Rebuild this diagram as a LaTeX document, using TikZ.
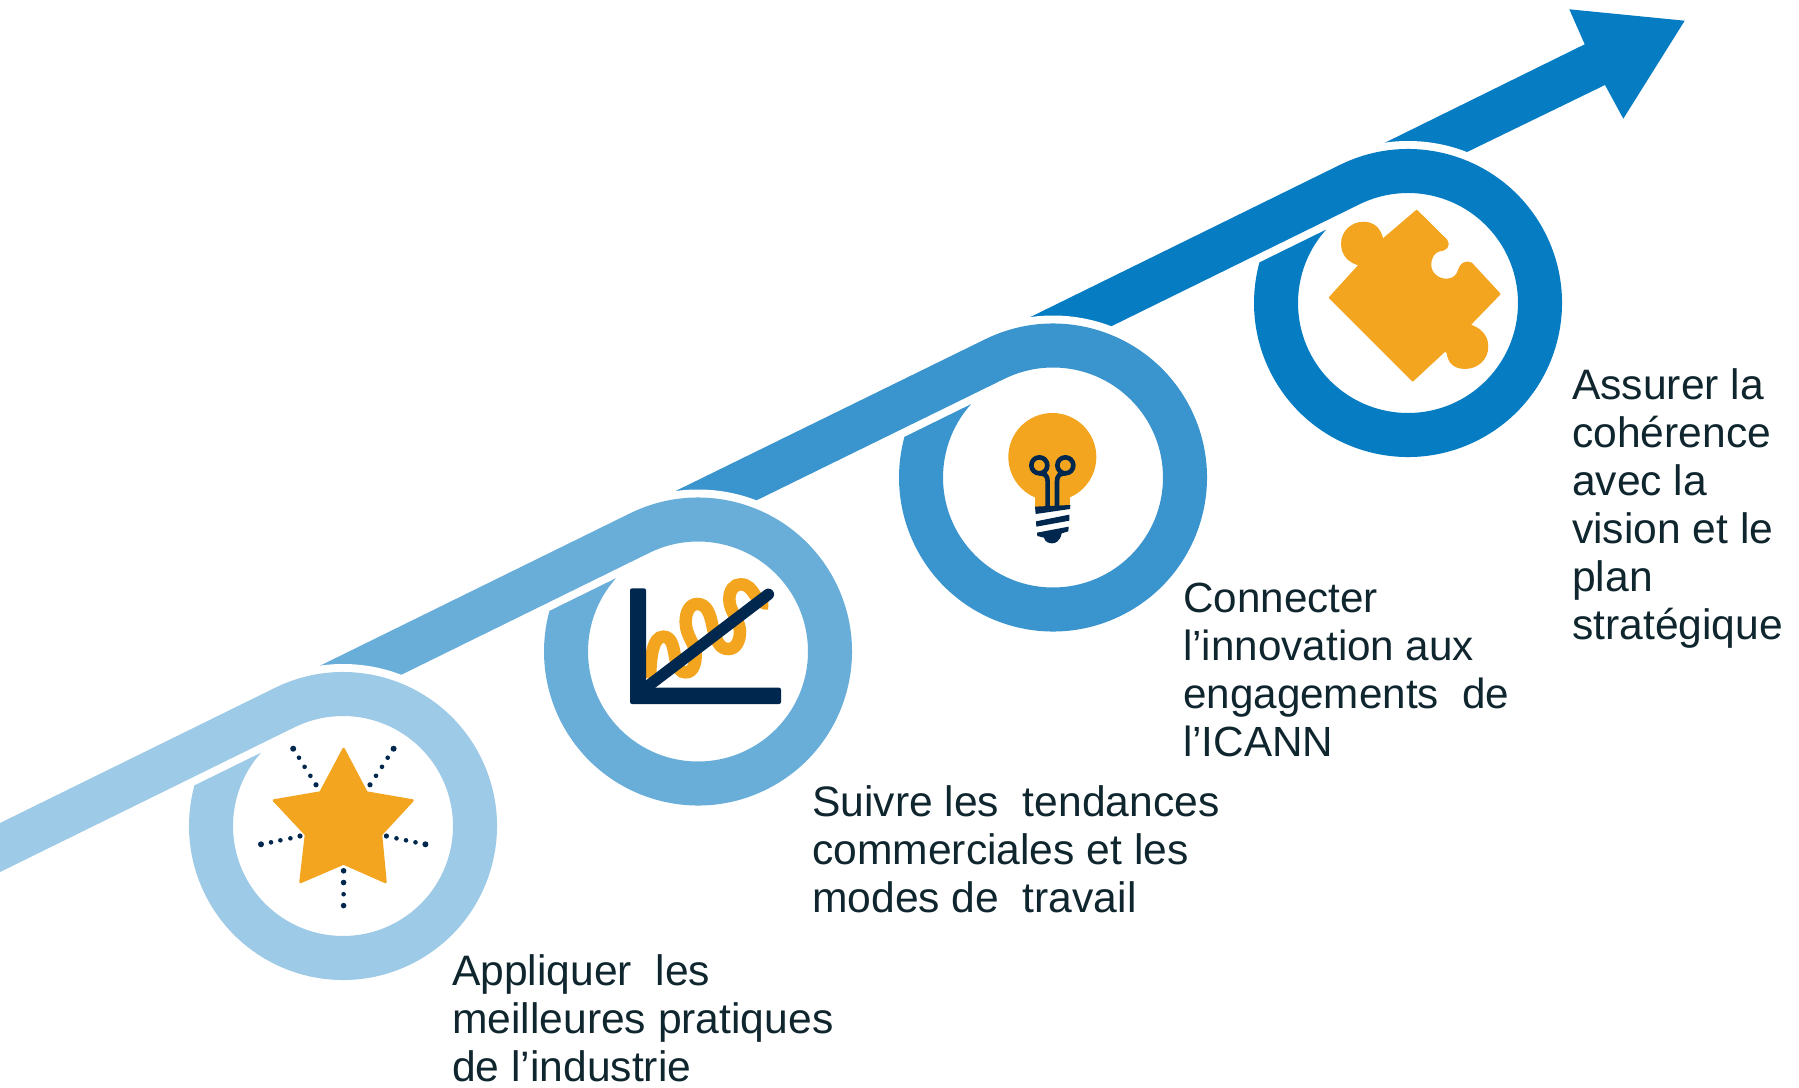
\documentclass[tikz,border=0pt]{standalone}
\usepackage{fontspec}
\setmainfont{Liberation Sans}
\usetikzlibrary{calc}
\definecolor{ringA}{HTML}{9DCAE6}
\definecolor{ringB}{HTML}{69AED9}
\definecolor{ringC}{HTML}{3A94CE}
\definecolor{ringD}{HTML}{067CC2}
\definecolor{iconorange}{HTML}{F3A51F}
\definecolor{iconnavy}{HTML}{00274D}
\definecolor{labeltext}{HTML}{10262E}
\newcommand{\spiralring}[3]{%
  \fill[white] (#2) circle[radius=162];
  \fill[#3] ($(#1)+(116.18:154)$) -- ($(#2)+(116.18:154)$)
    arc[start angle=116.18,end angle=-195.3,radius=154]
    -- ($(#2)+(138.2:110)$)
    arc[start angle=-221.8,end angle=116.18,radius=110]
    -- ($(#1)+(116.18:110)$) -- cycle;
}
\tikzset{
  label block/.style={anchor=north west,inner sep=0pt,align=left,text=labeltext,text depth=0pt,
    font=\fontsize{42.6}{48}\selectfont},
  label block narrow/.style={label block,font=\fontsize{42.2}{48}\selectfont},
  zoomed/.style={x=0.33333pt,y=-0.33333pt},
  filament/.style={iconnavy,line width=4.6pt},
}
\begin{document}
\begin{tikzpicture}[x=1pt,y=1pt]
\useasboundingbox (0,-1087) rectangle (1799,0);
\clip (0,-1087) rectangle (1799,0);
\fill[white] (0,-1087) rectangle (1799,0);
\coordinate (c0) at (-12,-1000.5);
\coordinate (c1) at (343,-826);
\coordinate (c2) at (698,-651.5);
\coordinate (c3) at (1053,-477.5);
\coordinate (c4) at (1408,-303);
% arrow
\fill[ringD] ($(c4)+(116.18:154)$) -- (1584.7,-44.3) -- (1569.3,-9.3) -- (1684.7,-20.7)
  -- (1623.3,-118.7) -- (1605,-85) -- ($(c4)+(116.18:110)$) -- cycle;
\spiralring{c3}{c4}{ringD}
\spiralring{c2}{c3}{ringC}
\spiralring{c1}{c2}{ringB}
\spiralring{c0}{c1}{ringA}
% star
\fill[iconorange,draw=iconorange,line width=2.5pt,line join=round]
  (343.6,-749) -- (366.5,-792.5) -- (412.5,-800.5) -- (381,-834.6) -- (385.5,-882)
  -- (343.6,-863.5) -- (300.5,-882) -- (306,-834.6) -- (274,-800.5) -- (320.5,-792.5) -- cycle;
\foreach \x/\y/\r in {293.2/748.7/3,299/757.7/2.3,304.6/766.8/2.3,310.4/775.8/2.3,316/784.8/2.6,
  393.6/748.7/3,387.7/757.7/2.3,382/766.8/2.3,376/775.8/2.3,370/784.8/2.6,
  261/844.3/3,271/842.3/2.3,280.4/840.3/2.3,290.4/838.3/2.3,300/836/2.6,
  425.4/844.3/3,415.5/842.3/2.3,406/840.3/2.3,396.5/838.3/2.3,386.4/836/2.6,
  343.6/870.8/2.8,343.6/882.5/2.8,343.6/894.2/2.3,343.6/905.6/2.8}
  \fill[iconnavy] (\x,-\y) circle[radius=\r];
% chart
\begin{scope}[shift={(520,-480)},zoomed]
\draw[iconorange,line width=12.5pt]
  (390,595) .. controls (392,530) and (398,470) .. (430,470)
  .. controls (455,470) and (460,500) .. (465,530)
  .. controls (472,565) and (480,577) .. (497,577)
  .. controls (520,577) and (527,550) .. (527,525)
  .. controls (527,490) and (497,470) .. (497,425)
  .. controls (497,395) and (510,372) .. (532,372)
  .. controls (560,372) and (570,400) .. (578,440)
  .. controls (588,485) and (600,507) .. (625,507)
  .. controls (650,507) and (660,480) .. (660,455)
  .. controls (660,420) and (628,395) .. (628,358)
  .. controls (628,330) and (642,313) .. (662,313)
  .. controls (685,313) and (695,330) .. (705,345)
  .. controls (718,365) and (730,372) .. (745,370);
\fill[iconnavy,rounded corners=2pt] (330,325) -- (378,325) -- (378,623) -- (783,623) -- (783,672) -- (330,672) -- cycle;
\draw[iconnavy,line width=11.5pt,line cap=round] (375,625) -- (745,343);
\end{scope}
% bulb
\begin{scope}[shift={(880,-310)},zoomed]
\fill[iconorange] (517,441) circle[radius=44pt];
\fill[iconorange] (465,540) rectangle (571,590);
\draw[filament] (478,466) circle[radius=8pt];
\draw[filament] (556,466) circle[radius=8pt];
\draw[filament] (503,590) -- (503,515) .. controls (503,497) and (495,490) .. (478,490);
\draw[filament] (531,590) -- (531,515) .. controls (531,497) and (539,490) .. (556,490);
\fill[iconnavy] (465,590) -- (571,585) -- (570,597) -- (467,612) -- cycle;
\fill[iconnavy] (468,634) -- (568,614) -- (568,632) -- (469,650) -- cycle;
\fill[iconnavy] (471,668) -- (566,650) -- (565,664) -- (545,670) .. controls (540,695) and (525,700) .. (517,700)
  .. controls (505,700) and (495,695) .. (492,683) -- (472,678) -- cycle;
\end{scope}
% puzzle
\begin{scope}[shift={(1240,0)},zoomed]
\fill[iconorange,draw=iconorange,line width=1.2pt,line join=round]
  (530,631) -- (620,720) .. controls (630,735) and (622,750) .. (600,752)
  .. controls (583,755) and (572,772) .. (572,795)
  .. controls (572,820) and (595,838) .. (620,838)
  .. controls (640,838) and (652,825) .. (656,810)
  .. controls (660,793) and (675,780) .. (695,790)
  -- (780,882) -- (690,975)
  .. controls (720,985) and (743,1005) .. (743,1040)
  .. controls (743,1080) and (710,1105) .. (675,1105)
  .. controls (640,1105) and (625,1085) .. (622,1060)
  -- (616,1052) -- (518,1143) -- (268,893) -- (357,795)
  .. controls (325,785) and (305,765) .. (305,730)
  .. controls (305,695) and (335,667) .. (370,667)
  .. controls (405,667) and (422,690) .. (428,718) -- cycle;
\end{scope}
% labels
\node[label block] (l1) at (452,-954) {Appliquer\ \ les\\meilleures pratiques\\de l’industrie};
\node[label block] (l2) at (812,-785) {Suivre les\ \ tendances\\commerciales et les\\modes de\ \ travail};
\node[label block narrow] (l3) at (1183,-583) {Connecter\\l’innovation aux\\engagements\ \ de\\l’ICANN};
\node[label block] (l4) at (1572,-368) {Assurer la\\cohérence\\avec la\\vision et le\\plan\\stratégique};
\end{tikzpicture}
\end{document}
